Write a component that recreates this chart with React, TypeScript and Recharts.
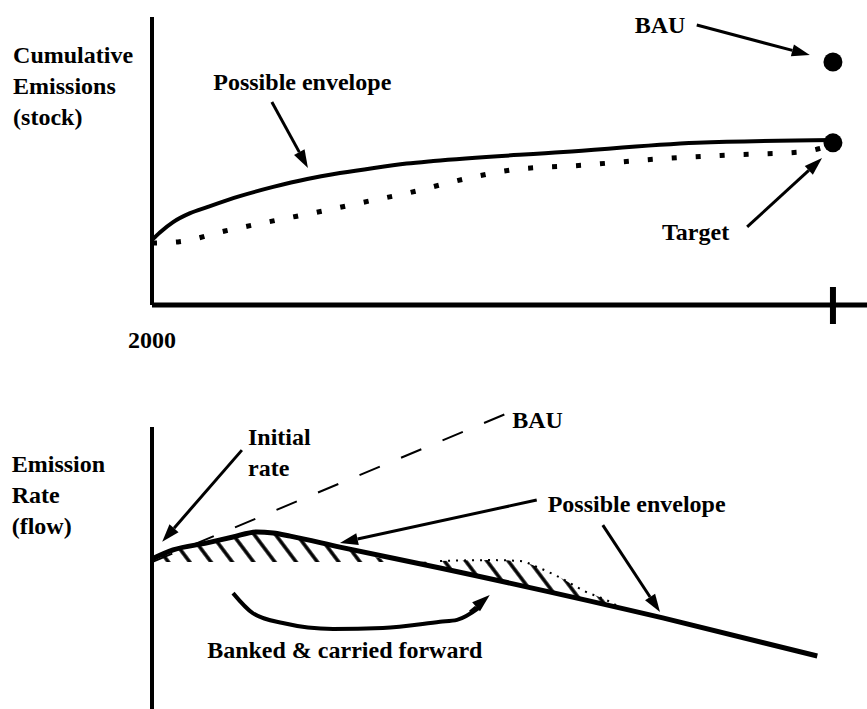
import React from "react";
import {
  ComposedChart,
  Line,
  Area,
  Scatter,
  XAxis,
  YAxis,
  ReferenceLine,
  ReferenceDot,
  Label,
} from "recharts";

// ---- top panel: cumulative emissions (stock) ----
// x runs 0 (2000) .. 100 (target year), y is 0..100 of the panel height
const stockEnvelope = [
  { x: 0, y: 22.6 },
  { x: 1.2, y: 25.3 },
  { x: 3.1, y: 28.8 },
  { x: 5.6, y: 31.9 },
  { x: 8.1, y: 34.0 },
  { x: 12.9, y: 37.8 },
  { x: 17.8, y: 41.0 },
  { x: 22.8, y: 43.75 },
  { x: 27.6, y: 45.8 },
  { x: 32.6, y: 47.6 },
  { x: 37.4, y: 49.1 },
  { x: 41.3, y: 50.0 },
  { x: 60.4, y: 53.1 },
  { x: 80.0, y: 56.3 },
  { x: 100, y: 57.3 },
];

const stockTargetPath = [
  { x: 0, y: 21.5 },
  { x: 3.8, y: 21.9 },
  { x: 10.7, y: 25.7 },
  { x: 17.8, y: 29.2 },
  { x: 25.0, y: 32.6 },
  { x: 31.9, y: 36.1 },
  { x: 38.9, y: 39.6 },
  { x: 42.3, y: 41.7 },
  { x: 52.9, y: 46.9 },
  { x: 63.6, y: 48.6 },
  { x: 74.1, y: 50.7 },
  { x: 84.9, y: 52.1 },
  { x: 95.2, y: 53.1 },
  { x: 100, y: 55.6 },
];

const stockPoints = [
  { x: 100, y: 84.4 }, // BAU
  { x: 100, y: 56.3 }, // Target
];

const stockTicks = [0, 100];
const stockTickLabels = ["2000", ""];

const stockArrows = [
  { from: { x: 17.6, y: 70.5 }, to: { x: 22.9, y: 47.6 } },
  { from: { x: 80.0, y: 97.2 }, to: { x: 96.6, y: 86.8 } },
  { from: { x: 87.4, y: 27.1 }, to: { x: 98.4, y: 51.0 } },
];

const stockLabels = [
  { x: -20.4, y: 84.0, lines: ["Cumulative", "Emissions", "(stock)"] },
  { x: 9.0, y: 74.7, lines: ["Possible envelope"] },
  { x: 70.9, y: 94.4, lines: ["BAU"] },
  { x: 74.9, y: 22.6, lines: ["Target"] },
];

// ---- bottom panel: emission rate (flow) ----
const flowEnvelope = [
  { x: 0, y: 53.2 },
  { x: 3.1, y: 56.4 },
  { x: 8.1, y: 58.9 },
  { x: 11.9, y: 61.0 },
  { x: 15.4, y: 62.8 },
  { x: 17.8, y: 62.4 },
  { x: 20.3, y: 61.3 },
  { x: 27.6, y: 57.4 },
  { x: 42.3, y: 50.0 },
  { x: 75.0, y: 32.3 },
  { x: 97.7, y: 18.8 },
];

const flowBau = [
  { x: 0, y: 52.1 },
  { x: 52.3, y: 105.0 },
];

// hatched band between envelope and the flat initial rate
const flowBanked = [
  { x: 0, range: [52.1, 53.2] },
  { x: 3.1, range: [52.1, 56.4] },
  { x: 8.1, range: [52.1, 58.9] },
  { x: 11.9, range: [52.1, 61.0] },
  { x: 15.4, range: [52.1, 62.8] },
  { x: 17.8, range: [52.1, 62.4] },
  { x: 20.3, range: [52.1, 61.3] },
  { x: 27.6, range: [52.1, 57.4] },
  { x: 37.4, range: [52.1, 52.1] },
  { x: 42.3, range: [50.0, 52.5] },
  { x: 50.0, range: [45.8, 52.8] },
  { x: 54.0, range: [43.6, 52.5] },
  { x: 56.5, range: [42.3, 50.4] },
  { x: 60.0, range: [40.4, 46.5] },
  { x: 63.5, range: [38.5, 41.8] },
  { x: 67.0, range: [36.6, 38.3] },
  { x: 69.0, range: [35.6, 35.6] },
];

// dotted upper edge of the later part of the band
const flowRefEdge = [
  { x: 42.3, y: 52.5 },
  { x: 50.0, y: 52.8 },
  { x: 54.0, y: 52.5 },
  { x: 56.5, y: 50.4 },
  { x: 60.0, y: 46.5 },
  { x: 63.5, y: 41.8 },
  { x: 67.0, y: 38.3 },
  { x: 69.0, y: 35.6 },
];

const flowCarried = [
  { x: 11.9, y: 41.1 },
  { x: 14.8, y: 34.0 },
  { x: 19.2, y: 30.5 },
  { x: 26.6, y: 28.4 },
  { x: 33.9, y: 28.7 },
  { x: 42.3, y: 30.9 },
  { x: 44.8, y: 31.6 },
  { x: 48.2, y: 36.2 },
];

const flowArrows = [
  { from: { x: 13.2, y: 91.8 }, to: { x: 1.5, y: 59.3 } },
  { from: { x: 56.5, y: 74.1 }, to: { x: 27.6, y: 58.9 } },
  { from: { x: 66.2, y: 65.2 }, to: { x: 74.6, y: 34.4 } },
  { from: { x: 46.7, y: 34.4 }, to: { x: 49.6, y: 40.4 } },
];

const flowLabels = [
  { x: -20.6, y: 84.0, lines: ["Emission", "Rate", "(flow)"] },
  { x: 14.1, y: 93.6, lines: ["Initial", "rate"] },
  { x: 52.9, y: 99.6, lines: ["BAU"] },
  { x: 58.1, y: 69.9, lines: ["Possible envelope"] },
  { x: 8.1, y: 18.1, lines: ["Banked & carried forward"] },
];

const FONT = "'Liberation Serif', 'Times New Roman', serif";

const Arrow = (props: any) => {
  const { x1, y1, x2, y2 } = props;
  const dx = x2 - x1;
  const dy = y2 - y1;
  const len = Math.hypot(dx, dy) || 1;
  const ux = dx / len;
  const uy = dy / len;
  const head = 18;
  const half = 6;
  const bx = x2 - ux * head;
  const by = y2 - uy * head;
  return (
    <g>
      <line x1={x1} y1={y1} x2={bx} y2={by} stroke="#000" strokeWidth={3} />
      <polygon
        points={`${x2},${y2} ${bx - uy * half},${by + ux * half} ${bx + uy * half},${by - ux * half}`}
        fill="#000"
      />
    </g>
  );
};

const TextBlock = ({ viewBox, lines }: any) => {
  const x = viewBox.x + (viewBox.width || 0) / 2;
  const y = viewBox.y + (viewBox.height || 0) / 2;
  return (
    <text x={x} y={y} fontFamily={FONT} fontWeight="bold" fontSize={24} fill="#000">
      {lines.map((l: string, i: number) => (
        <tspan key={i} x={x} dy={i === 0 ? 0 : 31}>
          {l}
        </tspan>
      ))}
    </text>
  );
};

const StockTick = (props: any) => {
  const { x, y, payload } = props;
  const idx = stockTicks.indexOf(payload.value);
  if (payload.value === 100) {
    return <line x1={x} x2={x} y1={y - 18} y2={y + 19} stroke="#000" strokeWidth={6} />;
  }
  return (
    <text x={x} y={y + 43} textAnchor="middle" fontFamily={FONT} fontWeight="bold" fontSize={24} fill="#000">
      {stockTickLabels[idx]}
    </text>
  );
};

export default function App() {
  return (
    <div style={{ position: "absolute", left: 0, top: 0, width: 867, height: 709, background: "#fff" }}>
      <div style={{ position: "absolute", left: 0, top: 0 }}>
        <ComposedChart width={867} height={360} margin={{ top: 17, right: 0, bottom: 0, left: 92 }}>
          <XAxis
            type="number"
            dataKey="x"
            domain={[0, 105]}
            ticks={stockTicks}
            interval={0}
            tickLine={false}
            tickSize={0}
            tickMargin={0}
            height={55}
            axisLine={{ stroke: "#000", strokeWidth: 5 }}
            tick={(p: any) => <StockTick {...p} />}
          />
          <YAxis
            type="number"
            dataKey="y"
            domain={[0, 100]}
            width={60}
            tick={false}
            tickLine={false}
            axisLine={{ stroke: "#000", strokeWidth: 4 }}
          />
          <Line
            data={stockTargetPath}
            dataKey="y"
            type="monotone"
            stroke="#000"
            strokeWidth={5}
            strokeDasharray="5 19"
            dot={false}
            activeDot={false}
            isAnimationActive={false}
          />
          <Line
            data={stockEnvelope}
            dataKey="y"
            type="monotone"
            stroke="#000"
            strokeWidth={4}
            dot={false}
            activeDot={false}
            isAnimationActive={false}
          />
          <Scatter
            data={stockPoints}
            dataKey="y"
            isAnimationActive={false}
            shape={(p: any) => <circle cx={p.cx} cy={p.cy} r={9.5} fill="#000" />}
          />
          {stockArrows.map((a, i) => (
            <ReferenceLine key={"sa" + i} segment={[a.from, a.to]} ifOverflow="visible" shape={Arrow} />
          ))}
          {stockLabels.map((t, i) => (
            <ReferenceDot key={"sl" + i} x={t.x} y={t.y} r={0} ifOverflow="visible" stroke="none" fill="none">
              <Label content={(p: any) => <TextBlock {...p} lines={t.lines} />} />
            </ReferenceDot>
          ))}
        </ComposedChart>
      </div>

      <div style={{ position: "absolute", left: 0, top: 380 }}>
        <ComposedChart width={867} height={329} margin={{ top: 47, right: 0, bottom: 0, left: 92 }}>
          <defs>
            <pattern id="hatch" patternUnits="userSpaceOnUse" width={17} height={17} patternTransform="rotate(-37)">
              <line x1={8} y1={-2} x2={8} y2={19} stroke="#000" strokeWidth={3.5} />
            </pattern>
          </defs>
          <XAxis type="number" dataKey="x" domain={[0, 105]} hide />
          <YAxis
            type="number"
            dataKey="y"
            domain={[0, 100]}
            width={60}
            tick={false}
            tickLine={false}
            axisLine={{ stroke: "#000", strokeWidth: 4 }}
          />
          <Area
            data={flowBanked}
            dataKey="range"
            type="monotone"
            stroke="none"
            fill="url(#hatch)"
            fillOpacity={1}
            dot={false}
            activeDot={false}
            isAnimationActive={false}
          />
          <Line
            data={flowRefEdge}
            dataKey="y"
            type="monotone"
            stroke="#000"
            strokeWidth={2}
            strokeDasharray="2 6"
            dot={false}
            activeDot={false}
            isAnimationActive={false}
          />
          <ReferenceLine
            segment={[flowBau[0], flowBau[1]]}
            ifOverflow="visible"
            stroke="#000"
            strokeWidth={2}
            strokeDasharray="22 23"
          />
          <Line
            data={flowEnvelope}
            dataKey="y"
            type="monotone"
            stroke="#000"
            strokeWidth={5}
            dot={false}
            activeDot={false}
            isAnimationActive={false}
          />
          <Line
            data={flowCarried}
            dataKey="y"
            type="monotone"
            stroke="#000"
            strokeWidth={4}
            dot={false}
            activeDot={false}
            isAnimationActive={false}
          />
          {flowArrows.map((a, i) => (
            <ReferenceLine key={"fa" + i} segment={[a.from, a.to]} ifOverflow="visible" shape={Arrow} />
          ))}
          {flowLabels.map((t, i) => (
            <ReferenceDot key={"fl" + i} x={t.x} y={t.y} r={0} ifOverflow="visible" stroke="none" fill="none">
              <Label content={(p: any) => <TextBlock {...p} lines={t.lines} />} />
            </ReferenceDot>
          ))}
        </ComposedChart>
      </div>
    </div>
  );
}
